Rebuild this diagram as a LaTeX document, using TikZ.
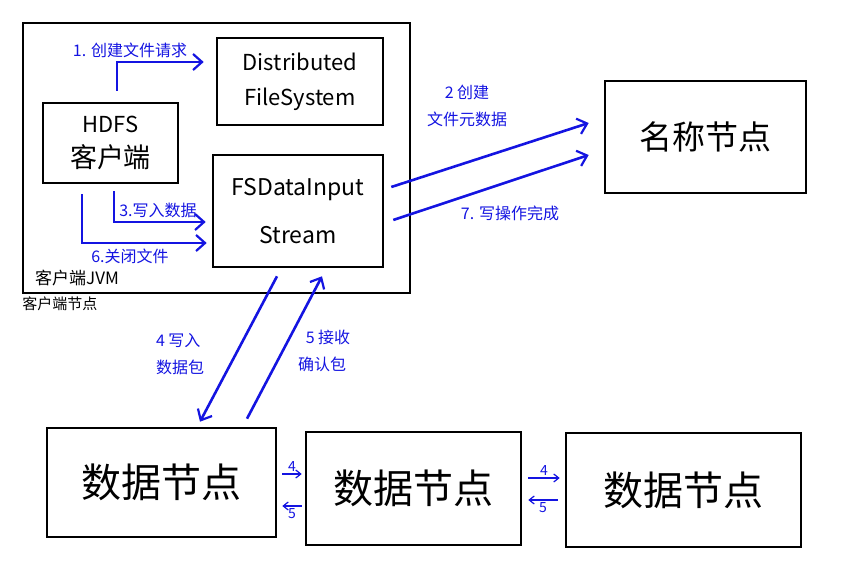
\documentclass[tikz,border=0pt]{standalone}
\usepackage{fontspec}
\usetikzlibrary{arrows.meta}
\newfontfamily\cjk{Noto Sans CJK SC}
\definecolor{penblue}{RGB}{20,20,225}

\tikzset{
  box/.style={draw, line width=2.6pt, inner sep=0pt, align=center},
  arr/.style={penblue, line width=2.6pt, -{Straight Barb[length=9pt,width=16pt,line width=2.2pt]}},
  thinarr/.style={penblue, line width=1.4pt, -{Straight Barb[length=5pt,width=8pt,line width=1.2pt]}},
  lbl/.style={penblue, inner sep=0pt, align=center, font=\cjk\fontsize{16}{27}\selectfont},
  num/.style={penblue, inner sep=2pt, font=\cjk\fontsize{14}{14}\selectfont}
}

\begin{document}
\begin{tikzpicture}[x=1pt,y=-1pt]
\useasboundingbox (0,0) rectangle (844,583);

% client JVM
\node[box, minimum width=387pt, minimum height=270pt] (jvm) at (216.5,158) {};
\node[inner sep=0pt, font=\cjk\fontsize{17}{17}\selectfont] (jvmlbl) at (77,278) {客户端JVM};
\node[inner sep=0pt, font=\cjk\fontsize{15}{15}\selectfont] (nodelbl) at (60,304) {客户端节点};

\node[box, minimum width=135pt, minimum height=80pt, font=\cjk] (hdfs) at (110.5,143)
  {{\fontsize{22}{36}\selectfont HDFS}\\[11pt]{\fontsize{27}{36}\selectfont 客户端}};
\node[box, minimum width=166pt, minimum height=87pt, font=\cjk\fontsize{22}{35}\selectfont] (dfs) at (300,81.5)
  {Distributed\\FileSystem};
\node[box, minimum width=170pt, minimum height=112pt, font=\cjk\fontsize{23}{48}\selectfont] (fsd) at (298,211)
  {FSDataInput\\Stream};

% name node
\node[box, minimum width=201pt, minimum height=112pt, font=\cjk\fontsize{33}{33}\selectfont] (nn) at (705.5,137) {名称节点};

% data nodes
\node[box, minimum width=229pt, minimum height=109pt, font=\cjk\fontsize{40}{40}\selectfont] (dn1) at (161.5,482.5) {数据节点};
\node[box, minimum width=215pt, minimum height=113pt, font=\cjk\fontsize{40}{40}\selectfont] (dn2) at (413.5,488.5) {数据节点};
\node[box, minimum width=235pt, minimum height=114pt, font=\cjk\fontsize{40}{40}\selectfont] (dn3) at (683.5,490) {数据节点};

% client side
\draw[arr] ([xshift=6.5pt,yshift=11pt]hdfs.north) |- ([xshift=-12pt,yshift=19.5pt]dfs.west);
\node[lbl] (l1) at (130,50) {1. 创建文件请求};

\draw[arr] ([xshift=3.5pt,yshift=-7pt]hdfs.south) |- ([xshift=-6pt,yshift=-11pt]fsd.west);
\node[lbl] (l3) at (158,210) {3.写入数据};

\draw[arr] ([xshift=-28.5pt,yshift=-10pt]hdfs.south) |- ([xshift=-5pt,yshift=-32pt]fsd.west);
\node[lbl] (l6) at (130,256) {6.关闭文件};

% to name node
\draw[arr] ([xshift=7pt,yshift=24pt]fsd.east) -- ([xshift=-15pt,yshift=14pt]nn.west);
\node[lbl] (l2) at (467,106) {2 创建\\文件元数据};

\draw[arr] ([xshift=9pt,yshift=-9pt]fsd.east) -- ([xshift=-15pt,yshift=-18pt]nn.west);
\node[lbl] (l7) at (510,213) {7. 写操作完成};

% to data nodes
\draw[arr] ([xshift=-21pt,yshift=-8pt]fsd.south) -- ([xshift=38.5pt,yshift=5pt]dn1.north);
\node[lbl, align=left] (l4) at (180,354) {4 写入\\数据包};

\draw[arr] ([xshift=85.5pt,yshift=8pt]dn1.north) -- ([xshift=24pt,yshift=-8pt]fsd.south);
\node[lbl] (l5) at (322,351) {\hspace{12pt}5 接收\\确认包};

% pipeline
\draw[thinarr] ([xshift=5pt,yshift=8.5pt]dn1.east) -- ([xshift=-3pt,yshift=14.5pt]dn2.west) node[midway,num,above] {4};
\draw[thinarr] ([xshift=-3pt,yshift=-17.5pt]dn2.west) -- ([xshift=5pt,yshift=-23.5pt]dn1.east) node[midway,num,below] {5};

\draw[thinarr] ([xshift=6pt,yshift=10.5pt]dn2.east) -- ([xshift=-5pt,yshift=12pt]dn3.west) node[midway,num,above] {4};
\draw[thinarr] ([xshift=-7pt,yshift=-10pt]dn3.west) -- ([xshift=6pt,yshift=-11.5pt]dn2.east) node[midway,num,below] {5};

\end{tikzpicture}
\end{document}
